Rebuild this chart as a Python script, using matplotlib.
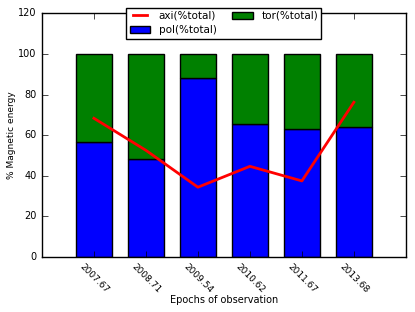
import numpy as np
import matplotlib
matplotlib.use('Agg')
import matplotlib.pyplot as plt

plt.style.use('classic')

# epochs and energy fractions
epochs = ['2007.67', '2008.71', '2009.54', '2010.62', '2011.67', '2013.68']
pol = [56.5, 48.2, 88.2, 65.3, 63.1, 64.0]
tor = [100 - p for p in pol]
axi = [68.3, 52.5, 34.3, 44.6, 37.4, 76.2]

x = np.arange(len(epochs))

fig = plt.figure(figsize=(4.15, 3.12), dpi=100, facecolor='white')
ax = fig.add_axes([0.101, 0.177, 0.877, 0.78])

b1 = ax.bar(x, pol, width=0.7, color='blue', align='center', label='pol(%total)')
b2 = ax.bar(x, tor, width=0.7, bottom=pol, color='green', align='center', label='tor(%total)')
l1, = ax.plot(x, axi, color='red', lw=2, label='axi(%total)')

ax.set_xlim(-1, 6)
ax.set_ylim(0, 120)
ax.set_xticks(x)
ax.set_xticklabels(epochs, rotation=-45, ha='center', fontsize=6.5)
ax.tick_params(axis='y', labelsize=7)
ax.set_xlabel('Epochs of observation', fontsize=7, labelpad=0)
ax.set_ylabel('% Magnetic energy', fontsize=6.5, labelpad=1)

ax.legend([l1, b1, b2], ['axi(%total)', 'pol(%total)', 'tor(%total)'],
          loc='upper center', bbox_to_anchor=(0.5, 1.045), ncol=2,
          fontsize=7.5, handlelength=2.0, borderpad=0.3, labelspacing=0.45,
          columnspacing=1.5, handletextpad=0.8)

fig.savefig('out.png', dpi=100, facecolor='white')
